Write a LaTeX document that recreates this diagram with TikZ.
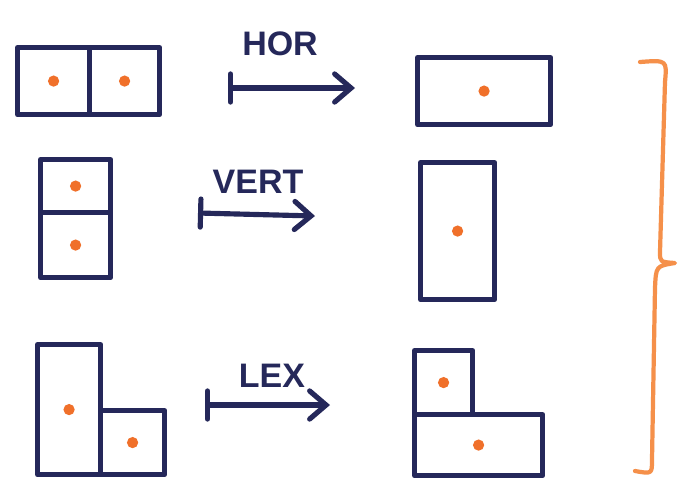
\documentclass[tikz,border=0pt]{standalone}
\usepackage{fontspec}
\setsansfont{Liberation Sans}
\usepackage{tikz}
\usetikzlibrary{arrows.meta,positioning,calc}
\definecolor{ink}{HTML}{25285A}
\definecolor{dot}{HTML}{F0702A}
\definecolor{brace}{HTML}{F5904A}
\newcommand{\px}{0.03cm}

\begin{document}
\begin{tikzpicture}[x=0.03cm,y=-0.03cm,font=\sffamily,
  cell/.style={draw=ink,line width=4.4pt,line join=round,inner sep=0pt,anchor=north west},
  mv/.style={draw=ink,line width=4.4pt,line cap=round,
    {Bar[width=24pt,line cap=round]}-{Straight Barb[length=14pt,width=24pt,line cap=round]}},
  lbl/.style={text=ink,font=\sffamily\bfseries\fontsize{29}{32}\selectfont}]
\useasboundingbox[fill=white] (0,0) rectangle (686,497);
% row 1: HOR
\node[cell,minimum width=72*\px,minimum height=67*\px] (h1) at (15,45) {};
\node[cell,minimum width=70*\px,minimum height=67*\px] (h2) at (87,45) {};
\node[cell,minimum width=133*\px,minimum height=67*\px] (hr) at (415,55) {};
\coordinate (hs) at (228,88);
\coordinate (he) at (355,88);
\draw[mv] (hs) -- (he);
\node[lbl] (hl) at (280,44) {HOR};
% row 2: VERT
\node[cell,minimum width=70*\px,minimum height=53*\px] (v1) at (38,157) {};
\node[cell,minimum width=70*\px,minimum height=65*\px] (v2) at (38,210) {};
\node[cell,minimum width=74*\px,minimum height=137*\px] (vr) at (418,160) {};
\coordinate (vs) at (198,213);
\coordinate (ve) at (315,216);
\draw[mv] (vs) -- (ve);
\node[lbl] (vl) at (258,182) {VERT};
% row 3: LEX
\node[cell,minimum width=63*\px,minimum height=130*\px] (l1) at (35,342) {};
\node[cell,minimum width=64*\px,minimum height=64*\px] (l2) at (98,408) {};
\node[cell,minimum width=58*\px,minimum height=64*\px] (lr1) at (412,348) {};
\node[cell,minimum width=128*\px,minimum height=61*\px] (lr2) at (412,412) {};
\coordinate (ls) at (205,405);
\coordinate (le) at (330,405);
\draw[mv] (ls) -- (le);
\node[lbl] (ll) at (272,376) {LEX};
% orange centres
\foreach \c in {h1,h2,hr,v1,v2,vr,l1,l2,lr1,lr2}
  \fill[dot] (\c.center) circle (4.8pt);
% brace
\draw[brace,line width=3.6pt,line cap=round,line join=round]
  (640,62) .. controls (667,60) .. (665,82) -- (660,252)
  .. controls (660,262) .. (675,263)
  .. controls (656,266) .. (655,288) -- (652,460)
  .. controls (652,474) .. (635,471);
\end{tikzpicture}
\end{document}
